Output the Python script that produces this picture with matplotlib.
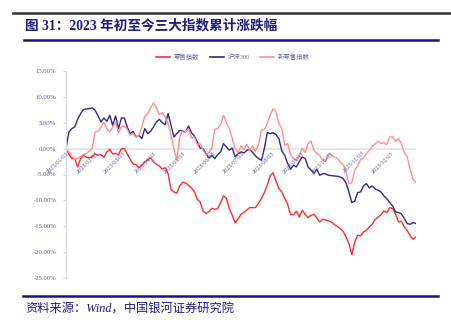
import pandas as pd
import matplotlib.pyplot as plt
import matplotlib.dates as mdates
from matplotlib.lines import Line2D

# 3-day sample points from 2023/01/03 to 2023/12/29
datum = pd.date_range('2023-01-03', periods=121, freq='3D')

# cumulative change in %
hs300 = [0, 3.22, 3.86, 4.19, 5.67, 6.76, 7.60, 7.66, 7.73, 7.86, 7.40, 6.31, 5.15, 5.92, 5.28,
         6.44, 4.51, 6.31, 3.86, 5.92, 5.92, 4.19, 2.90, 3.35, 2.25, 2.58, 1.93, 3.86, 2.90, 3.35,
         4.19, 5.15, 5.67, 5.02, 4.64, 6.76, 4.51, 2.25, 2.90, 3.54, 3.35, 3.22, 4.38, 3.09, 2.45,
         1.29, 0.13, 0, -0.97, -1.80, -1.29, -1.93, -1.16, -0.64, 0.97, 0.32, -0.32, 0.13, -1.61, -0.97,
         -0.64, -0.84, -0.32, -0.13, -0.77, -1.42, -1.93, -2.25, 0, 3.09, 2.90, 3.09, 2.70, 1.93, -0.45,
         -1.29, -2.90, -4.00, -3.22, -3.54, -2.45, -1.61, -1.93, -3.54, -4.12, -4.83, -3.99, -5.15, -4.83, -4.89,
         -5.15, -5.22, -5.28, -5.34, -5.47, -5.80, -6.63, -8.37, -10.43, -10.17, -8.50, -8.37, -7.21, -6.76, -7.60,
         -7.21, -7.79, -8.05, -8.37, -9.14, -9.66, -10.43, -11.08, -12.23, -12.36, -12.62, -13.52, -14.49, -14.62, -14.29,
         -14.49]

lingshou = [0, -1.03, -1.93, -1.93, -3.54, -1.93, -1.29, -1.67, -1.80, -1.55, -1.03, -1.29, -1.16, -1.67, -0.64,
            -0.13, -1.03, -0.97, -1.16, 0, 0, -1.03, -2.06, -2.96, -3.09, -3.73, -3.22, -2.58, -2.19, -1.74,
            -2.58, -3.03, -3.35, -3.99, -3.67, -4.83, -7.92, -8.37, -8.63, -7.21, -6.50, -6.63, -7.08, -7.60, -8.24,
            -9.79, -10.30, -12.11, -12.56, -12.17, -11.53, -11.72, -11.59, -10.43, -9.14, -9.59, -11.59, -12.88, -14.36, -13.59,
            -12.69, -12.30, -11.85, -11.40, -11.40, -11.40, -10.56, -9.66, -8.50, -7.08, -5.28, -4.64, -6.31, -7.73, -8.37,
            -9.66, -10.75, -12.75, -12.75, -12.11, -13.20, -11.91, -12.69, -13.33, -12.88, -12.69, -13.39, -14.17, -13.65, -13.78,
            -13.97, -14.17, -14.68, -15.00, -15.45, -15.97, -17.06, -18.35, -20.48, -18.03, -16.74, -16.87, -16.10, -15.78, -15.13,
            -14.62, -13.65, -13.26, -12.75, -12.04, -12.36, -11.40, -11.59, -12.69, -14.17, -14.04, -15.13, -15.84, -16.87, -17.51,
            -17.06]

xin_lingshou = [0, -0.64, -1.48, -2.06, -1.93, -1.55, -1.16, -0.90, -0.45, 0, 3.22, 3.35, 4.12, 5.02, 3.86,
                3.22, 4.19, 5.02, 3.09, 4.19, 4.38, 3.73, 2.58, 2.90, 2.25, 2.58, 4.19, 6.25, 6.70, 7.86,
                8.82, 7.86, 6.57, 6.95, 6.12, 4.83, 2.58, 0, -2.25, 2.25, 3.54, 3.22, 3.86, 2.06, 2.25,
                0.77, 0.97, -0.32, -1.16, -0.77, 0.13, 3.73, 3.86, 4.64, 6.44, 5.02, 3.86, 1.93, 0, -0.77,
                0.52, -0.19, 0.84, -0.32, 0.52, -0.52, 0.77, 3.54, 3.67, 4.83, 6.44, 7.73, 7.08, 4.83, 3.86,
                0.64, 0.97, -1.16, -1.93, -2.25, -1.29, 0.13, -0.77, 0.97, 1.48, -0.32, -0.97, -1.29, -2.25, -2.45,
                -1.03, -1.29, -1.61, -1.87, -2.58, -3.09, -4.38, -6.76, -6.57, -4.19, -3.35, -2.12, -1.80, -0.97, -0.32,
                0.52, 0.90, 1.42, 0.97, 1.16, 0.77, 2.25, 2.25, 1.42, 1.93, 0.97, -0.77, -1.61, -3.99, -5.92,
                -6.57]

tick_dates = ['2023/01/03', '2023/02/03', '2023/03/03', '2023/04/03', '2023/05/03', '2023/06/03',
              '2023/07/03', '2023/08/03', '2023/09/03', '2023/10/03', '2023/11/03', '2023/12/03']
y_ticks = [15, 10, 5, 0, -5, -10, -15, -20, -25]

navy = '#1e1b7e'
label_col = '#5b58a6'
cjk = ['Liberation Serif', 'Noto Sans CJK SC']

fig = plt.figure(figsize=(4.51, 3.28), dpi=100)
ax = fig.add_axes([66 / 451, 1 - 278 / 328, 350 / 451, 207 / 328])

ax.plot(datum, lingshou, color='#ff2b2b', lw=1.0, label='零售指数')
ax.plot(datum, hs300, color='#2e2a8c', lw=1.0, label='沪深300')
ax.plot(datum, xin_lingshou, color='#ff8e8e', lw=1.0, label='新零售指数')
ax.axhline(0, color='#e6e6e6', lw=1.5, zorder=0)

ax.set_xlim(datum[0], datum[-1])
ax.set_ylim(-25, 15)
ax.set_yticks(y_ticks)
ax.set_yticklabels(['%.2f%%' % v for v in y_ticks], fontsize=4.8, color=label_col, family='Liberation Serif')
ax.tick_params(axis='y', length=2, pad=5, color='#d9d9d9')
ax.set_xticks([])
for s in ['top', 'right', 'bottom']:
    ax.spines[s].set_visible(False)
ax.spines['left'].set_color('#d9d9d9')
ax.spines['left'].set_linewidth(0.8)

# date labels hang under the zero line
for d in tick_dates:
    ax.text(mdates.date2num(pd.Timestamp(d)), -0.4, d, rotation=45, rotation_mode='anchor',
            ha='right', va='top', fontsize=4.4, color=label_col, family='Liberation Serif')

handles = [Line2D([], [], color=l.get_color(), lw=1.2) for l in ax.get_lines()[:3]]
leg = fig.legend(handles, ['零售指数', '沪深300', '新零售指数'], loc='center', bbox_to_anchor=(233 / 451, 1 - 57 / 328),
                 ncol=3, frameon=False, handlelength=2.2, columnspacing=1.6, handletextpad=0.6,
                 prop={'family': cjk, 'size': 4.6})
for t in leg.get_texts():
    t.set_color('#6a6a9a')

# page decoration
fig.add_artist(Line2D([13 / 451, 1], [1 - 13 / 328] * 2, color='#333333', lw=1.8))
fig.add_artist(Line2D([24 / 451, 438 / 451], [1 - 40 / 328] * 2, color='#16138a', lw=1.8))
fig.add_artist(Line2D([23 / 451, 438 / 451], [1 - 296 / 328] * 2, color='#16138a', lw=1.8))
fig.text(25 / 451, 1 - 26 / 328, '图 31：2023 年初至今三大指数累计涨跌幅', fontsize=9.8, fontweight='bold',
         color=navy, family=cjk, va='center')
fig.text(25 / 451, 1 - 310 / 328, '资料来源：Wind，中国银河证券研究院', fontsize=8.8, style='italic',
         color=navy, family=cjk, va='center')

fig.savefig('out.png', dpi=100)
